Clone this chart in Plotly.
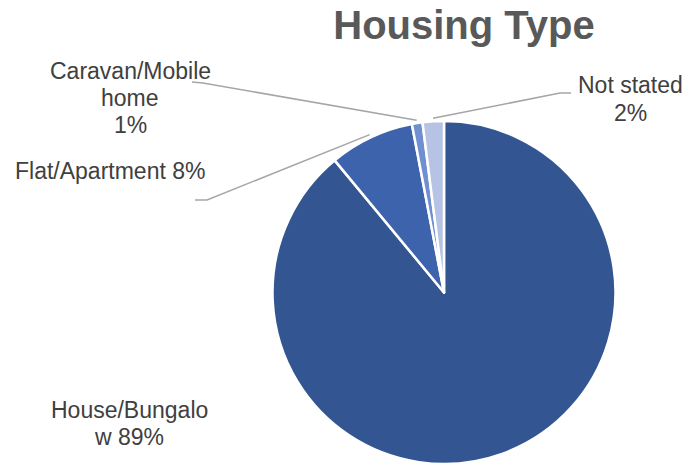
import math
import plotly.graph_objects as go

# Housing type shares (%)
categories = ["House/Bungalow", "Flat/Apartment", "Caravan/Mobile home", "Not stated"]
shares = [89, 8, 1, 2]
slice_colors = ["#335693", "#3C63AB", "#6F8FD0", "#B6C3E4"]

# Label text, as broken over lines beside each slice
label_lines = [["House/Bungalo", "w 89%"], ["Flat/Apartment 8%"],
               ["Caravan/Mobile", "home", "1%"], ["Not stated", "2%"]]

W, H = 685, 464
# pie placement in pixels
cx, cy, r = 444, 292.5, 171.5

fig = go.Figure(go.Pie(
    labels=categories,
    values=shares,
    sort=False,
    direction="clockwise",
    rotation=0,
    marker=dict(colors=slice_colors, line=dict(color="white", width=2.5)),
    textinfo="none",
    hoverinfo="label+percent",
    domain=dict(x=[(cx - r) / W, (cx + r) / W], y=[0, (H - cy + r) / H]),
    showlegend=False,
))


def px(x, y):
    return x / W, 1 - y / H


# mid-angle of each slice, clockwise from 12 o'clock
total = sum(shares)
mids = []
acc = 0
for v in shares:
    mids.append((acc + v / 2) / total * 360)
    acc += v


def edge_point(angle_deg, pad=3):
    a = math.radians(angle_deg)
    return cx + (r + pad) * math.sin(a), cy - (r + pad) * math.cos(a)


# label anchor (centre of text block) and leader-line elbow/end, in pixels
label_pos = [(129, 423), (110, 171), (130, 98), (630, 99)]
line_gap = 27
leader = {1: [(207, 200), (195, 200)],
          2: [(203, 83), (192, 82)],
          3: [(560, 93), (571, 93)]}

label_font = dict(family="Liberation Sans, Arial, sans-serif", size=23, color="#404040")

shapes = []
for i, (lx, ly) in enumerate(label_pos):
    lines = label_lines[i]
    top = ly - line_gap * (len(lines) - 1) / 2
    for k, line in enumerate(lines):
        x0, y0 = px(lx, top + k * line_gap)
        fig.add_annotation(
            x=x0, y=y0, xref="paper", yref="paper",
            text=line, showarrow=False, font=label_font,
            xanchor="center", yanchor="middle", align="center",
        )
    if i in leader:
        pts = [edge_point(mids[i])] + leader[i]
        path = "M " + " L ".join(f"{px(x, y)[0]:.5f},{px(x, y)[1]:.5f}" for x, y in pts)
        shapes.append(dict(type="path", path=path, xref="paper", yref="paper",
                           line=dict(color="#A6A6A6", width=1.5)))

fig.update_layout(
    width=W, height=H,
    margin=dict(l=0, r=0, t=0, b=0),
    paper_bgcolor="white",
    plot_bgcolor="white",
    shapes=shapes,
    title=dict(
        text="<b>Housing Type</b>",
        x=464 / W, xanchor="center",
        y=1 - 25 / H, yanchor="middle",
        font=dict(family="Liberation Sans, Arial, sans-serif", size=40, color="#595959"),
    ),
)

fig.write_html("out.html")
